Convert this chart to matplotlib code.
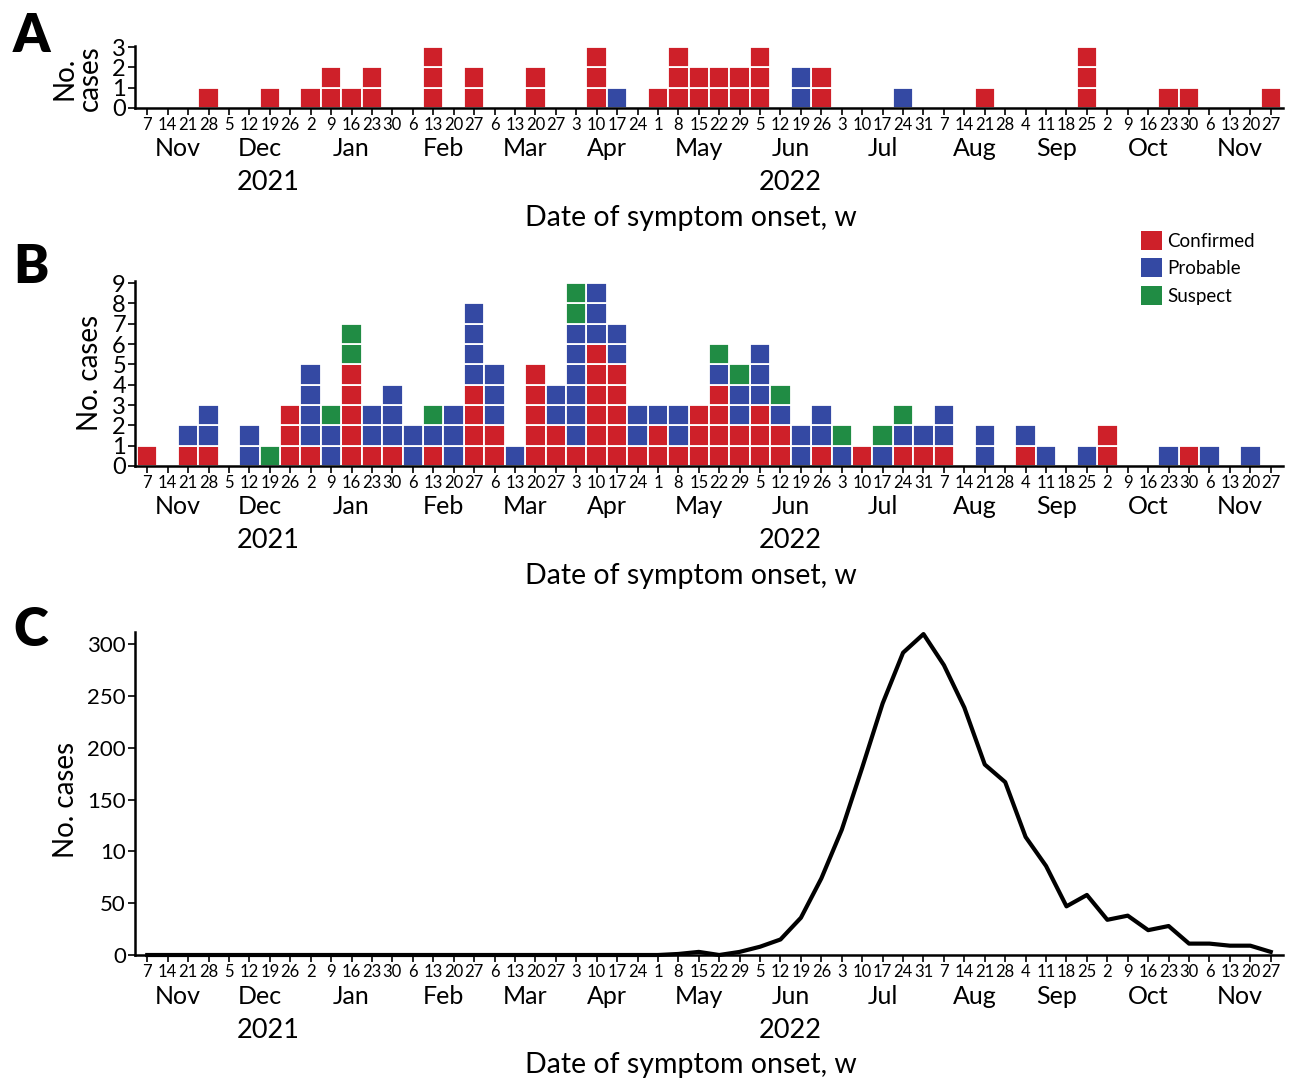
import numpy as np
import matplotlib.pyplot as plt
from matplotlib.patches import Patch

# week start days (Sundays), Nov 2021 - Nov 2022
weeks = [7, 14, 21, 28, 5, 12, 19, 26, 2, 9, 16, 23, 30, 6, 13, 20, 27,
         6, 13, 20, 27, 3, 10, 17, 24, 1, 8, 15, 22, 29, 5, 12, 19, 26,
         3, 10, 17, 24, 31, 7, 14, 21, 28, 4, 11, 18, 25, 2, 9, 16, 23, 30,
         6, 13, 20, 27]
months = ['Nov', 'Dec', 'Jan', 'Feb', 'Mar', 'Apr', 'May', 'Jun', 'Jul',
          'Aug', 'Sep', 'Oct', 'Nov']
weeks_per_month = [4, 4, 5, 4, 4, 4, 5, 4, 5, 4, 4, 5, 4]
years = ['2021', '2022']

# panel A
a_confirmed = [0, 0, 0, 1, 0, 0, 1, 0, 1, 2, 1, 2, 0, 0, 3, 0, 2, 0, 0, 2, 0,
               0, 3, 0, 0, 1, 3, 2, 2, 2, 3, 0, 0, 2, 0, 0, 0, 0, 0, 0, 0, 1,
               0, 0, 0, 0, 3, 0, 0, 0, 1, 1, 0, 0, 0, 1]
a_probable = [0, 0, 0, 0, 0, 0, 0, 0, 0, 0, 0, 0, 0, 0, 0, 0, 0, 0, 0, 0, 0,
              0, 0, 1, 0, 0, 0, 0, 0, 0, 0, 0, 2, 0, 0, 0, 0, 1, 0, 0, 0, 0,
              0, 0, 0, 0, 0, 0, 0, 0, 0, 0, 0, 0, 0, 0]

# panel B
b_confirmed = [1, 0, 1, 1, 0, 0, 0, 3, 1, 0, 5, 1, 1, 0, 1, 0, 4, 2, 0, 5, 2,
               1, 6, 5, 1, 2, 1, 3, 4, 2, 3, 2, 0, 1, 0, 1, 0, 1, 1, 1, 0, 0,
               0, 1, 0, 0, 0, 2, 0, 0, 0, 1, 0, 0, 0, 0]
b_probable = [0, 0, 1, 2, 0, 2, 0, 0, 4, 2, 0, 2, 3, 2, 1, 3, 4, 3, 1, 0, 2,
              6, 3, 2, 2, 1, 2, 0, 1, 2, 3, 1, 2, 2, 1, 0, 1, 1, 1, 2, 0, 2,
              0, 1, 1, 0, 1, 0, 0, 0, 1, 0, 1, 0, 1, 0]
b_suspect = [0, 0, 0, 0, 0, 0, 1, 0, 0, 1, 2, 0, 0, 0, 1, 0, 0, 0, 0, 0, 0,
             2, 0, 0, 0, 0, 0, 0, 1, 1, 0, 1, 0, 0, 1, 0, 1, 1, 0, 0, 0, 0,
             0, 0, 0, 0, 0, 0, 0, 0, 0, 0, 0, 0, 0, 0]

# panel C
c_cases = [0] * 26 + [1, 3, 0, 3, 8, 15, 36, 74, 121, 181, 243, 292, 310,
                      280, 239, 184, 167, 114, 86, 47, 58, 34, 38, 24, 28, 11,
                      11, 9, 9, 3]
c_yticks = [0, 50, 100, 150, 200, 250, 300]
c_yticklabels = ['0', '50', '10', '150', '200', '250', '300']

RED, BLUE, GREEN = '#CE2029', '#3449A3', '#208C44'
W, H = 1293, 1080
TXT = ['Lato', 'DejaVu Sans']

x = np.arange(len(weeks))


def rect(left, right, top, bottom):
    return [left / W, 1 - bottom / H, (right - left) / W, (bottom - top) / H]


def cells(ax, stacks, colors):
    base = np.zeros(len(x))
    for counts, col in zip(stacks, colors):
        counts = np.array(counts)
        for j in range(counts.max()):
            m = counts > j
            ax.bar(x[m], 1, bottom=base[m] + j, width=1.0, color=col,
                   edgecolor='white', linewidth=1.3)
        base = base + counts


def style(ax, yticks, ylabels=None, yfs=17):
    for s in ['top', 'right']:
        ax.spines[s].set_visible(False)
    for s in ['left', 'bottom']:
        ax.spines[s].set_linewidth(1.8)
    ax.set_xlim(-0.6, 55.6)
    ax.set_xticks(x)
    ax.set_xticklabels([str(w) for w in weeks], family=TXT, fontsize=12)
    ax.set_yticks(yticks)
    ax.set_yticklabels(ylabels if ylabels else [str(t) for t in yticks],
                       family=TXT, fontsize=yfs)
    ax.tick_params(axis='both', direction='out', length=5, width=1.2)
    ax.tick_params(axis='x', pad=1.5)
    ax.tick_params(axis='y', pad=1.5)
    # month and year rows, axis title
    start = 0
    for mon, n in zip(months, weeks_per_month):
        ax.annotate(mon, (start + (n - 1) / 2, 0), xycoords=('data', 'axes fraction'),
                    xytext=(0, -41), textcoords='offset pixels', ha='center',
                    va='center', family=TXT, fontsize=18)
        start += n
    for yr, pos in zip(years, [5.9, 31.5]):
        ax.annotate(yr, (pos, 0), xycoords=('data', 'axes fraction'),
                    xytext=(0, -75), textcoords='offset pixels', ha='center',
                    va='center', family=TXT, fontsize=19.5)
    ax.annotate('Date of symptom onset, w', (26.6, 0), xycoords=('data', 'axes fraction'),
                xytext=(0, -110), textcoords='offset pixels', ha='center',
                va='center', family=TXT, fontsize=20.5)


fig = plt.figure(figsize=(W / 100, H / 100), dpi=100)

axA = fig.add_axes(rect(135, 1283, 46, 108))
cells(axA, [a_confirmed, a_probable], [RED, BLUE])
axA.set_ylim(0, 3.05)
style(axA, [0, 1, 2, 3])

axB = fig.add_axes(rect(135, 1283, 281, 466))
cells(axB, [b_confirmed, b_probable, b_suspect], [RED, BLUE, GREEN])
axB.set_ylim(0, 9.1)
style(axB, list(range(10)))

axC = fig.add_axes(rect(135, 1283, 632, 955))
axC.plot(x, c_cases, color='black', linewidth=3, clip_on=False)
axC.set_ylim(0, 312)
style(axC, c_yticks, c_yticklabels, yfs=16)

handles = [Patch(facecolor=c) for c in (RED, BLUE, GREEN)]
fig.legend(handles, ['Confirmed', 'Probable', 'Suspect'], loc='upper left',
           bbox_to_anchor=(1141 / W, 1 - 231 / H), frameon=False,
           prop={'family': TXT, 'size': 13.5}, handlelength=1.1,
           handleheight=1.15, handletextpad=0.3, labelspacing=0.47,
           borderpad=0, borderaxespad=0)

# y labels
fig.text(77 / W, 1 - 78 / H, 'No.\ncases', rotation=90, ha='center', va='center',
         family=TXT, fontsize=20, linespacing=0.95)
fig.text(90 / W, 1 - 373 / H, 'No. cases', rotation=90, ha='center', va='center',
         family=TXT, fontsize=20)
fig.text(66 / W, 1 - 800 / H, 'No. cases', rotation=90, ha='center', va='center',
         family=TXT, fontsize=20)

# panel letters
for lab, py in [('A', 52), ('B', 283), ('C', 646)]:
    fig.text(31 / W, 1 - py / H, lab, ha='center', va='baseline',
             family=TXT, fontsize=38, fontweight='heavy')

fig.savefig('out.png', dpi=100)
